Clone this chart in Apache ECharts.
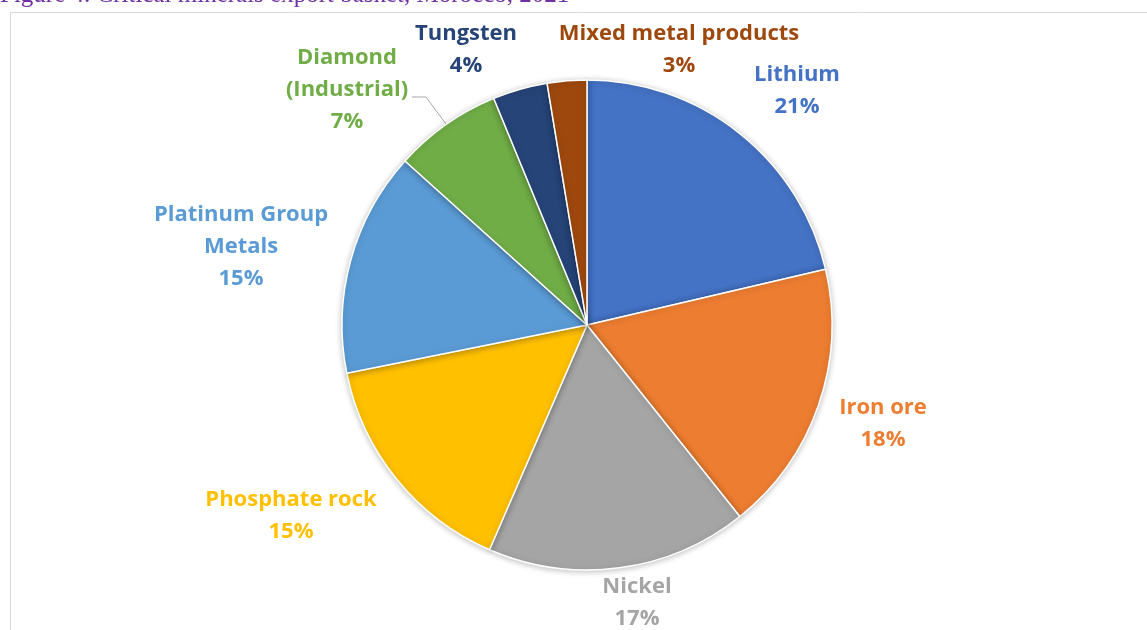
<!DOCTYPE html>
<html><head><meta charset="utf-8">
<script src="https://cdn.jsdelivr.net/npm/echarts@6/dist/echarts.min.js"></script>
<style>html,body{margin:0;padding:0;background:#fff}#c{width:1147px;height:630px}</style>
</head><body><div id="c"></div>
<script>
const titleText = 'Figure 4. Critical minerals export basket, Morocco, 2021';
const categories = ['Lithium', 'Iron ore', 'Nickel', 'Phosphate rock', 'Platinum Group\nMetals', 'Diamond\n(Industrial)', 'Tungsten', 'Mixed metal products'];
const values = [21.3, 17.9, 17.2, 15.3, 14.8, 7.1, 3.6, 2.6];
const colors = ['#4472C4', '#ED7D31', '#A5A5A5', '#FFC000', '#5B9BD5', '#70AD47', '#264478', '#9E480E'];
// label anchor positions (centers of label blocks)
const labelPos = [[797, 91], [883, 424], [637, 603], [291, 516], [241, 247], [347, 90], [466, 50], [679, 50]];

const chart = echarts.init(document.getElementById('c'));
chart.setOption({
  animation: false,
  graphic: [
    {type: 'rect', shape: {x: 10.5, y: 12.5, width: 1400, height: 900}, style: {fill: 'none', stroke: '#D9D9D9', lineWidth: 1}, z: 0},
    {type: 'text', left: 0, top: -17, style: {text: titleText, fill: '#7030A0', font: '25px "Liberation Serif", serif'}}
  ],
  series: [{
    type: 'pie',
    center: [587, 325],
    radius: 245,
    startAngle: 90,
    clockwise: true,
    itemStyle: {borderColor: '#fff', borderWidth: 1.5, shadowBlur: 6, shadowColor: 'rgba(0,0,0,0.25)', shadowOffsetY: 1},
    label: {
      show: true,
      color: 'inherit',
      fontFamily: 'Open Sans',
      fontWeight: 'bold',
      fontSize: 22,
      lineHeight: 32,
      align: 'center',
      formatter: p => p.name + '\n' + Math.round(p.percent) + '%'
    },
    labelLine: {show: false, lineStyle: {color: '#A6A6A6', width: 1}, length: 10, length2: 10},
    labelLayout: function (params) {
      const pos = labelPos[params.dataIndex];
      const out = {x: pos[0], y: pos[1], align: 'center', verticalAlign: 'middle'};
      if (params.dataIndex === 5) {
        out.labelLinePoints = [[412, 97], [426, 97], [446, 124]];
      }
      return out;
    },
    data: categories.map((c, i) => ({
      name: c, value: values[i],
      itemStyle: {color: colors[i]},
      labelLine: {show: i === 5}
    }))
  }]
});
</script></body></html>
